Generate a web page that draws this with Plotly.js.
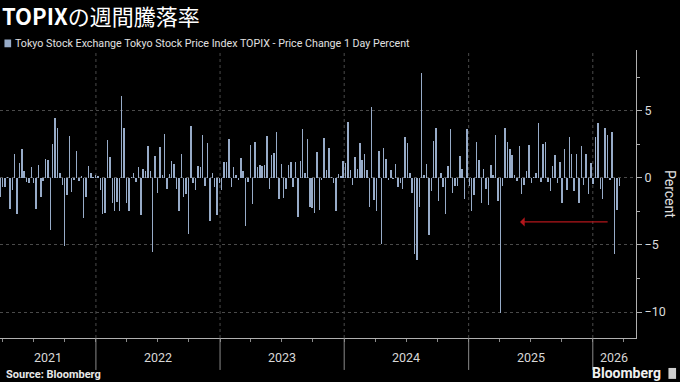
<!DOCTYPE html>
<html><head><meta charset="utf-8">
<script src="https://cdn.plot.ly/plotly-3.0.1.min.js"></script>
<style>html,body{margin:0;padding:0;background:#000}#chart{width:680px;height:382px}</style>
</head><body><div id="chart"></div>
<script>
// Weekly TOPIX % change (week ending Friday), first bar = week ending 2021-03-26
const firstWeekEnding = '2021-03-26';
const chg2021 = [-1.45,-0.65,-0.65,0.05,-2.35,-0.9,1.8,-2.65,1.1,2.2,0.55,-0.3,-0.4,0.8,-0.4,-2.3,1.0,-1.45,-0.2,1.4,1.35,-3.9,2.55,4.5,3.75,0.35,-0.5,-5.05,-1.25,3.1,-1.05,-0.15,2.0,-0.2,0.15,-2.95,-1.4,0.9,0.4,0.1,0.25];
const chg2022 = [0.15,-0.9,-2.65,-2.6,2.85,1.6,-1.9,-2.5,-1.8,-2.5,6.1,3.7,-1.9,-2.5,0.1,0.4,-0.3,0.85,-2.75,0.65,0.5,2.4,0.5,-5.55,1.65,-1.15,2.3,0.2,3.3,-0.85,0.3,1.3,1.05,-0.85,-2.5,1.8,-1.4,-1.2,-4.2,3.85,-0.4,-0.9,0.9,0.85,3.2,-0.6,2.6,-3.2,0.35,-0.65,-2.75,-0.4];
const chg2023 = [-0.9,1.2,1.2,2.9,-0.7,0.8,0.2,-0.15,1.5,0.55,-3.6,-0.3,2.45,-1.95,2.7,0.8,0.95,0.9,0.95,3.1,-0.8,1.7,1.85,3.4,-1.6,1.05,-1.5,-0.8,1.0,1.2,-0.7,1.2,-2.9,1.3,3.65,0.35,2.9,-2.15,-2.25,-2.6,1.95,-2.4,-0.15,3.0,0.6,2.25,0.1,-0.4,-2.5,0.3,0.15,1.3];
const chg2024 = [1.1,4.15,0.6,-0.5,1.6,0.65,2.6,1.35,1.8,0.6,-2.15,5.3,-1.65,-2.45,2.05,-4.9,2.25,1.45,-0.15,0.6,-0.1,1.05,-0.7,-0.35,-0.8,3.05,2.6,0.35,-1.15,-5.7,-6.1,-2.15,7.8,0.2,1.05,-4.25,-1.0,2.75,3.7,-1.7,0.4,-0.65,-2.65,0.9,3.65,-1.1,-0.6,-0.6,1.65,0.65,-1.6,3.65];
const chg2025 = [-0.6,-2.5,-1.25,2.65,1.35,-1.9,0.7,-0.85,-2.0,1.0,0.25,3.2,-1.75,-10.05,-0.6,3.7,2.65,2.2,1.7,0.2,-0.2,2.4,-1.2,-0.5,0.5,2.45,-0.4,0.1,0.35,4.1,-0.3,2.55,2.7,-0.3,-0.95,0.9,1.7,-0.4,1.2,-1.85,2.15,-0.9,3.05,1.8,-1.0,1.8,-1.9,2.4,-0.5,1.8,-1.2,1.1];
const chg2026 = [-0.45,3.05,4.1,-0.85,-1.6,3.7,3.2,-0.15,3.4,-5.65,-2.4,-0.6];
const yearLabels = ['2021','2022','2023','2024','2025','2026'];
const seriesName = 'Tokyo Stock Exchange Tokyo Stock Price Index TOPIX - Price Change 1 Day Percent';
const titleText = '<b>TOPIX</b>の週間騰落率';
const BAR_COLOR = '#97abc8';

const values = [].concat(chg2021, chg2022, chg2023, chg2024, chg2025, chg2026);
const DAY = 86400000;
const t0 = Date.parse(firstWeekEnding + 'T00:00:00Z');
const dates = values.map((v, i) => new Date(t0 + 7 * i * DAY).toISOString().slice(0, 10));

const xRange = ['2021-03-25', '2026-05-08'];
const FONT = 'Roboto, "Noto Sans", sans-serif';

const shapes = [];
const annotations = [];
const r0 = Date.parse(xRange[0]), r1 = Date.parse(xRange[1]);
yearLabels.forEach((y, k) => {
  const ys = Date.parse(y + '-01-01'), ye = Date.parse((+y + 1) + '-01-01');
  if (k > 0) {
    shapes.push({type:'line', xref:'x', yref:'paper', x0:y+'-01-01', x1:y+'-01-01', y0:0, y1:1,
      line:{color:'#4a4a4a', width:1, dash:'dot'}, layer:'below'});
    shapes.push({type:'line', xref:'x', yref:'paper', x0:y+'-01-01', x1:y+'-01-01', y0:0, y1:-0.111,
      line:{color:'#8a8a8a', width:1}});
  }
  const mid = (Math.max(ys, r0) + Math.min(ye, r1)) / 2;
  annotations.push({xref:'x', yref:'paper', x:new Date(mid).toISOString().slice(0,10), y:-0.066,
    text:y, showarrow:false, xanchor:'center', yanchor:'middle', font:{family:FONT, size:12.5, color:'#d8d8d8'}});
});

// legend row (series key)
shapes.push({type:'rect', xref:'paper', yref:'paper', x0:0.007, x1:0.0175, y0:1.0095, y1:1.0365,
  fillcolor:BAR_COLOR, line:{width:0}});
annotations.push({xref:'paper', yref:'paper', x:0.021, y:1.023, text:seriesName, showarrow:false,
  xanchor:'left', yanchor:'middle', font:{family:FONT, size:10.7, color:'#e0e0e0'}});

annotations.push({xref:'paper', yref:'paper', x:1.0535, y:0.5, text:'Percent', textangle:90, showarrow:false,
  xanchor:'center', yanchor:'middle', font:{family:FONT, size:14, color:'#e0e0e0'}});
annotations.push({xref:'x', yref:'y', x:'2025-06-01', y:-3.28, ax:'2026-02-18', ay:-3.28, axref:'x', ayref:'y',
  text:'', showarrow:true, arrowhead:1, arrowsize:1.3, arrowwidth:1.2, arrowcolor:'#b3161b', standoff:0});
annotations.push({xref:'paper', yref:'paper', x:0.006, y:-0.128, text:'<b>Source: Bloomberg</b>', showarrow:false,
  xanchor:'left', yanchor:'middle', font:{family:FONT, size:11, color:'#e8e8e8'}});
annotations.push({xref:'paper', yref:'paper', x:1.043, y:-0.122, text:'<b>Bloomberg</b>', showarrow:false,
  xanchor:'right', yanchor:'middle', font:{family:FONT, size:14, color:'#f0f0f0'}});
shapes.push({type:'rect', xref:'paper', yref:'paper', x0:1.051, x1:1.063, y0:-0.104, y1:-0.142,
  fillcolor:'#cfcfcf', line:{width:0}});

const trace = {
  type:'bar', x:dates, y:values, name:seriesName,
  marker:{color:BAR_COLOR, line:{width:0}},
  width: 4.3 * DAY, showlegend:false, hoverinfo:'x+y'
};

const layout = {
  width:680, height:382,
  paper_bgcolor:'#000', plot_bgcolor:'#000',
  margin:{l:0, r:44, t:50, b:44, autoexpand:false},
  font:{family:FONT, color:'#ddd'},
  title:{text:titleText, font:{family:'"Noto Sans CJK JP", sans-serif', size:22, color:'#ffffff'},
    x:0.003, xref:'container', xanchor:'left', y:0.954, yref:'container', yanchor:'middle'},
  showlegend:false,
  xaxis:{type:'date', range:xRange, showgrid:false, zeroline:false, showline:true, linecolor:'#b0b0b0', linewidth:1,
    ticks:'outside', ticklen:3, tickcolor:'#8a8a8a', tick0:'2021-01-01', dtick:'M3', showticklabels:false, fixedrange:true},
  yaxis:{side:'right', range:[-11.94, 9.55], tickmode:'linear', tick0:0, dtick:5,
    ticks:'outside', ticklen:5, tickcolor:'#b0b0b0', showline:true, linecolor:'#b0b0b0', linewidth:1,
    showgrid:true, gridcolor:'#4a4a4a', griddash:'dot', zeroline:false,
    minor:{dtick:2.5, tick0:0, ticks:'outside', ticklen:3, tickcolor:'#b0b0b0', showgrid:false},
    tickfont:{family:FONT, size:12.5, color:'#dcdcdc'}, fixedrange:true},
  bargap:0,
  shapes:shapes, annotations:annotations
};

Plotly.newPlot('chart', [trace], layout, {displayModeBar:false, staticPlot:true});
</script>
</body></html>
